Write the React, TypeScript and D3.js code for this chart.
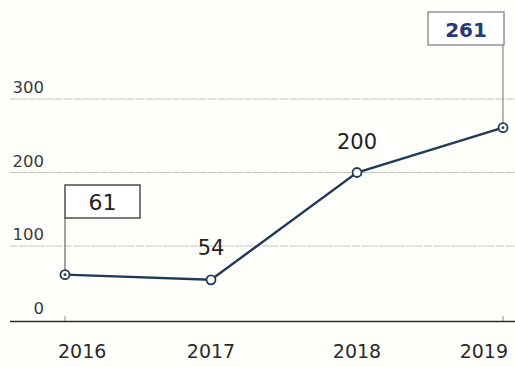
import React from "react";
import * as d3 from "d3";

const years = ["2016", "2017", "2018", "2019"];
const values = [61, 54, 200, 261];
const yTicks = [0, 100, 200, 300];

const W = 515;
const H = 367;

export default function App() {
  const x = d3.scalePoint<string>().domain(years).range([65, 503]);
  const y = d3.scaleLinear().domain([0, 300]).range([319.5, 99]);
  const line = d3
    .line<number>()
    .x((_, i) => x(years[i]) as number)
    .y((d) => y(d));
  const font = "'DejaVu Sans', Verdana, sans-serif";
  const lineColor = "#203a58";

  const p0 = { x: x(years[0]) as number, y: y(values[0]) };
  const p3 = { x: x(years[3]) as number, y: y(values[3]) };

  const yearAnchor = (i: number) =>
    i === 0 ? "start" : i === years.length - 1 ? "end" : "middle";
  const yearX = (i: number) => {
    const px = x(years[i]) as number;
    if (i === 0) return px - 7;
    if (i === years.length - 1) return px + 5;
    return px;
  };

  return (
    <svg
      width={W}
      height={H}
      style={{ position: "absolute", left: 0, top: 0, background: "#fffffb" }}
    >
      {yTicks.map((t) => (
        <g key={t}>
          {t > 0 && (
            <line
              x1={10}
              x2={W}
              y1={y(t)}
              y2={y(t)}
              stroke="#c4c4bc"
              strokeWidth={1.2}
              strokeDasharray="8 1"
            />
          )}
          <text
            x={44}
            y={y(t) - 6}
            textAnchor="end"
            fontFamily={font}
            fontSize={16.5}
            fill="#3a3a3a"
          >
            {t}
          </text>
        </g>
      ))}
      <line x1={10} x2={W} y1={321.5} y2={321.5} stroke="#2a2a2a" strokeWidth={1.5} />
      {[years[0], years[3]].map((yr) => (
        <line
          key={yr}
          x1={x(yr) as number}
          x2={x(yr) as number}
          y1={316}
          y2={321}
          stroke="#888"
          strokeWidth={1}
        />
      ))}
      {years.map((yr, i) => (
        <text
          key={yr}
          x={yearX(i)}
          y={358}
          textAnchor={yearAnchor(i)}
          fontFamily={font}
          fontSize={19}
          fill="#2a2a2a"
        >
          {yr}
        </text>
      ))}
      {/* connectors */}
      <line x1={p0.x} x2={p0.x} y1={218} y2={p0.y} stroke="#666" strokeWidth={1.2} />
      <line x1={p3.x} x2={p3.x} y1={45} y2={p3.y} stroke="#888" strokeWidth={1.2} />
      <path d={line(values) || ""} fill="none" stroke={lineColor} strokeWidth={2.4} />
      {values.map((v, i) => (
        <g key={i}>
          <circle
            cx={x(years[i]) as number}
            cy={y(v)}
            r={4.5}
            fill="#fff"
            stroke={lineColor}
            strokeWidth={1.8}
          />
          {(i === 0 || i === 3) && (
            <circle cx={x(years[i]) as number} cy={y(v)} r={1.4} fill={lineColor} />
          )}
        </g>
      ))}
      {/* 61 box */}
      <rect x={65} y={185} width={75} height={33} fill="#fff" stroke="#333" strokeWidth={1.3} />
      <text
        x={102.5}
        y={210}
        textAnchor="middle"
        fontFamily={font}
        fontSize={22}
        fill="#222"
      >
        {values[0]}
      </text>
      {/* 261 box */}
      <rect x={428} y={12} width={76} height={33} fill="#fff" stroke="#7a8a86" strokeWidth={1.3} />
      <text
        x={466}
        y={37}
        textAnchor="middle"
        fontFamily={font}
        fontSize={20}
        fontWeight={700}
        fill="#263a78"
      >
        {values[3]}
      </text>
      <text
        x={x(years[1]) as number}
        y={255}
        textAnchor="middle"
        fontFamily={font}
        fontSize={21}
        fill="#222"
      >
        {values[1]}
      </text>
      <text
        x={x(years[2]) as number}
        y={149}
        textAnchor="middle"
        fontFamily={font}
        fontSize={21}
        fill="#222"
      >
        {values[2]}
      </text>
    </svg>
  );
}
